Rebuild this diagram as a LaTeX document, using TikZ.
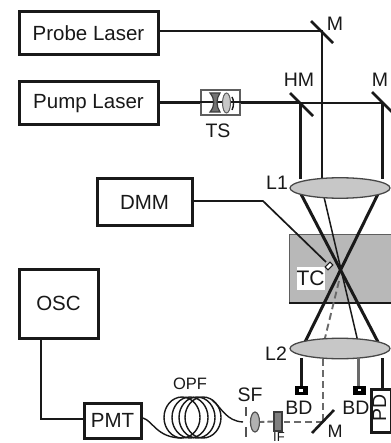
\documentclass[tikz,border=0pt]{standalone}
\usepackage{fontspec}
\setmainfont{Liberation Sans}
\usetikzlibrary{shapes.geometric,calc}
\definecolor{ink}{gray}{0.1}
\tikzset{
  box/.style={draw=ink,line width=3pt,fill=white,inner sep=0pt,font=\fontsize{20.5}{22}\selectfont,text=ink},
  lab/.style={inner sep=0pt,font=\fontsize{19.5}{21}\selectfont,text=ink},
  lensbig/.style={draw=ink!80,line width=1.3pt,fill=black!22,ellipse,inner sep=0pt,minimum width=100pt,minimum height=20.5pt},
  pumpbeam/.style={draw=ink,line width=3pt},
  probebeam/.style={draw=ink,line width=1.5pt},
  sigbeam/.style={draw=ink!65,line width=1.9pt,dash pattern=on 7pt off 4pt},
  mirror/.style={draw=ink,line width=2.6pt},
  wire/.style={draw=ink,line width=1.7pt},
  fibre/.style={draw=ink,line width=1.4pt}
}
\begin{document}
\begin{tikzpicture}[x=1pt,y=-1pt]
\useasboundingbox (0,0) rectangle (390,443);
\fill[white] (0,0) rectangle (390,443);
% cell
\node[draw=ink!70,line width=1.2pt,fill=black!28,minimum width=110pt,minimum height=69pt,inner sep=0pt,anchor=north west] (cell) at (289,234) {};
\draw[ink,line width=2.4pt] (289,303) -- (395,303);
\node[fill=white,minimum width=27pt,minimum height=23pt,inner sep=0pt,font=\fontsize{21}{22}\selectfont,text=ink] (tc) at (310.5,278.5) {TC};
% coordinates
\coordinate (mtop) at (322,31);
\coordinate (hm) at (300,103);
\coordinate (mr) at (382,103);
\coordinate (mlow) at (323,422);
\coordinate (cross) at (340,270);
% boxes
\node[box,minimum width=139pt,minimum height=43pt] (probe) at (88.5,33.5) {Probe Laser};
\node[box,minimum width=139pt,minimum height=43pt] (pump) at (88.5,103.5) {Pump Laser};
\node[box,minimum width=95pt,minimum height=46pt] (dmm) at (144.5,202) {DMM};
\node[box,minimum width=79pt,minimum height=69pt] (osc) at (58.5,303.5) {OSC};
\node[box,minimum width=57pt,minimum height=35pt] (pmt) at (112.5,420.5) {PMT};
\node[box,minimum width=20pt,minimum height=43pt] (pd) at (381,410.5) {};
\node[lab,rotate=90] (pdt) at (379.5,408) {PD};
% beams
\draw[probebeam] (probe.east |- mtop) -- (mtop) -- (322,178);
\draw[pumpbeam] (pump.east |- hm) -- (hm);
\draw[draw=ink,line width=2.2pt] (hm) -- (mr);
\draw[pumpbeam] (hm) -- (300,179);
\draw[pumpbeam] (mr) -- (382,179);
\draw[probebeam] (324,197) -- (358,342);
\draw[pumpbeam] (301,194) -- (378,342);
\draw[pumpbeam] (378,194) -- (305,342);
\draw[sigbeam] (339,281) -- (324,342);
% lenses
\node[lensbig] (l1) at (340,188) {};
\node[lensbig] (l2) at (340,348.5) {};
% below L2
\node[draw=none,fill=black,minimum width=13pt,minimum height=9pt,inner sep=0pt] (bdl) at (301,390.5) {};
\node[draw=none,fill=black,minimum width=13pt,minimum height=9pt,inner sep=0pt] (bdr) at (359.5,390.5) {};
\fill[white] (299,389) rectangle (303,392);
\fill[white] (358,389) rectangle (361,390.5);
\draw[pumpbeam] (301,358) -- (bdl.north);
\draw[draw=ink!65,line width=3pt] (358,358) -- (358,386);
\draw[pumpbeam] (382,358) -- (382,388);
\draw[sigbeam] (323,359) -- (mlow);
\draw[sigbeam] (mlow) -- (284,422);
\node[draw=ink!85,line width=1.2pt,fill=black!50,minimum width=8pt,minimum height=19pt,inner sep=0pt] (if) at (278,421.5) {};
\draw[sigbeam,dash pattern=on 6pt off 3pt] (if.west) -- (260,422);
\node[draw=ink!75,line width=1.2pt,fill=black!30,ellipse,minimum width=9pt,minimum height=20pt,inner sep=0pt] (sfl) at (255,422) {};
\draw[ink!75,line width=1.5pt] (246,407) -- (246,416) (246,427) -- (246,437);
% mirrors
\draw[mirror] (311,21) -- (333,43);
\draw[mirror] (290,93) -- (313,116);
\draw[mirror] (372,92) -- (395,115);
\draw[mirror] (312,433) -- (334,410);
% TS
\node[draw=ink!70,line width=1.3pt,fill=white,minimum width=39pt,minimum height=25pt,inner sep=0pt] (ts) at (220.5,102.5) {};
\draw[ink,line width=2pt] (ts.west) -- (ts.east);
\draw[ink!85,line width=1.2pt,fill=black!55] (210,93) -- (220,93) .. controls (216,99) and (216,106) .. (220,112) -- (210,112) .. controls (215,106) and (215,99) .. (210,93) -- cycle;
\node[draw=ink!70,line width=1pt,fill=black!22,ellipse,minimum width=8pt,minimum height=20pt,inner sep=0pt] (tsl) at (226.5,103) {};
\draw[ink,line width=1.4pt] (232,97) .. controls (234,100) and (234,106) .. (232,110);
% wires
\draw[wire] (dmm.east |- 0,201) -- (263,201) -- (326,262);
\node[draw=ink,line width=1.1pt,fill=white,minimum width=7pt,minimum height=4pt,inner sep=0pt,rotate=45] (tcp) at (329,266) {};
\draw[wire] (41,339) -- (41,419) -- (pmt.west |- 0,419);
% fibre
\draw[fibre] (143,418) .. controls (153,421) and (157,438) .. (182,438);
\draw[fibre] (182,417.5) ellipse (18 and 20.5);
\draw[fibre] (190,417.5) ellipse (18 and 20.5);
\draw[fibre] (197,417.5) ellipse (18 and 20.5);
\draw[fibre] (203,417.5) ellipse (18 and 20.5);
\draw[fibre] (212,400) .. controls (222,408) and (226,421) .. (243,422);
% labels
\node[lab] (lm1) at (335,24) {M};
\node[lab] (lhm) at (299,79.5) {HM};
\node[lab] (lm2) at (380,79.5) {M};
\node[lab] (lts) at (218,131) {TS};
\node[lab] (ll1) at (277,183) {L1};
\node[lab] (ll2) at (276,354) {L2};
\node[lab] (lbd1) at (299,408) {BD};
\node[lab] (lbd2) at (356,408) {BD};
\node[lab,font=\fontsize{18}{20}\selectfont] (lm3) at (335,431.5) {M};
\node[lab] (lsf) at (250,395) {SF};
\node[lab,font=\fontsize{16.5}{18}\selectfont] (lopf) at (190,384) {OPF};
\node[lab,font=\fontsize{13}{14}\selectfont] (lif) at (279,437) {IF};
\end{tikzpicture}
\end{document}
